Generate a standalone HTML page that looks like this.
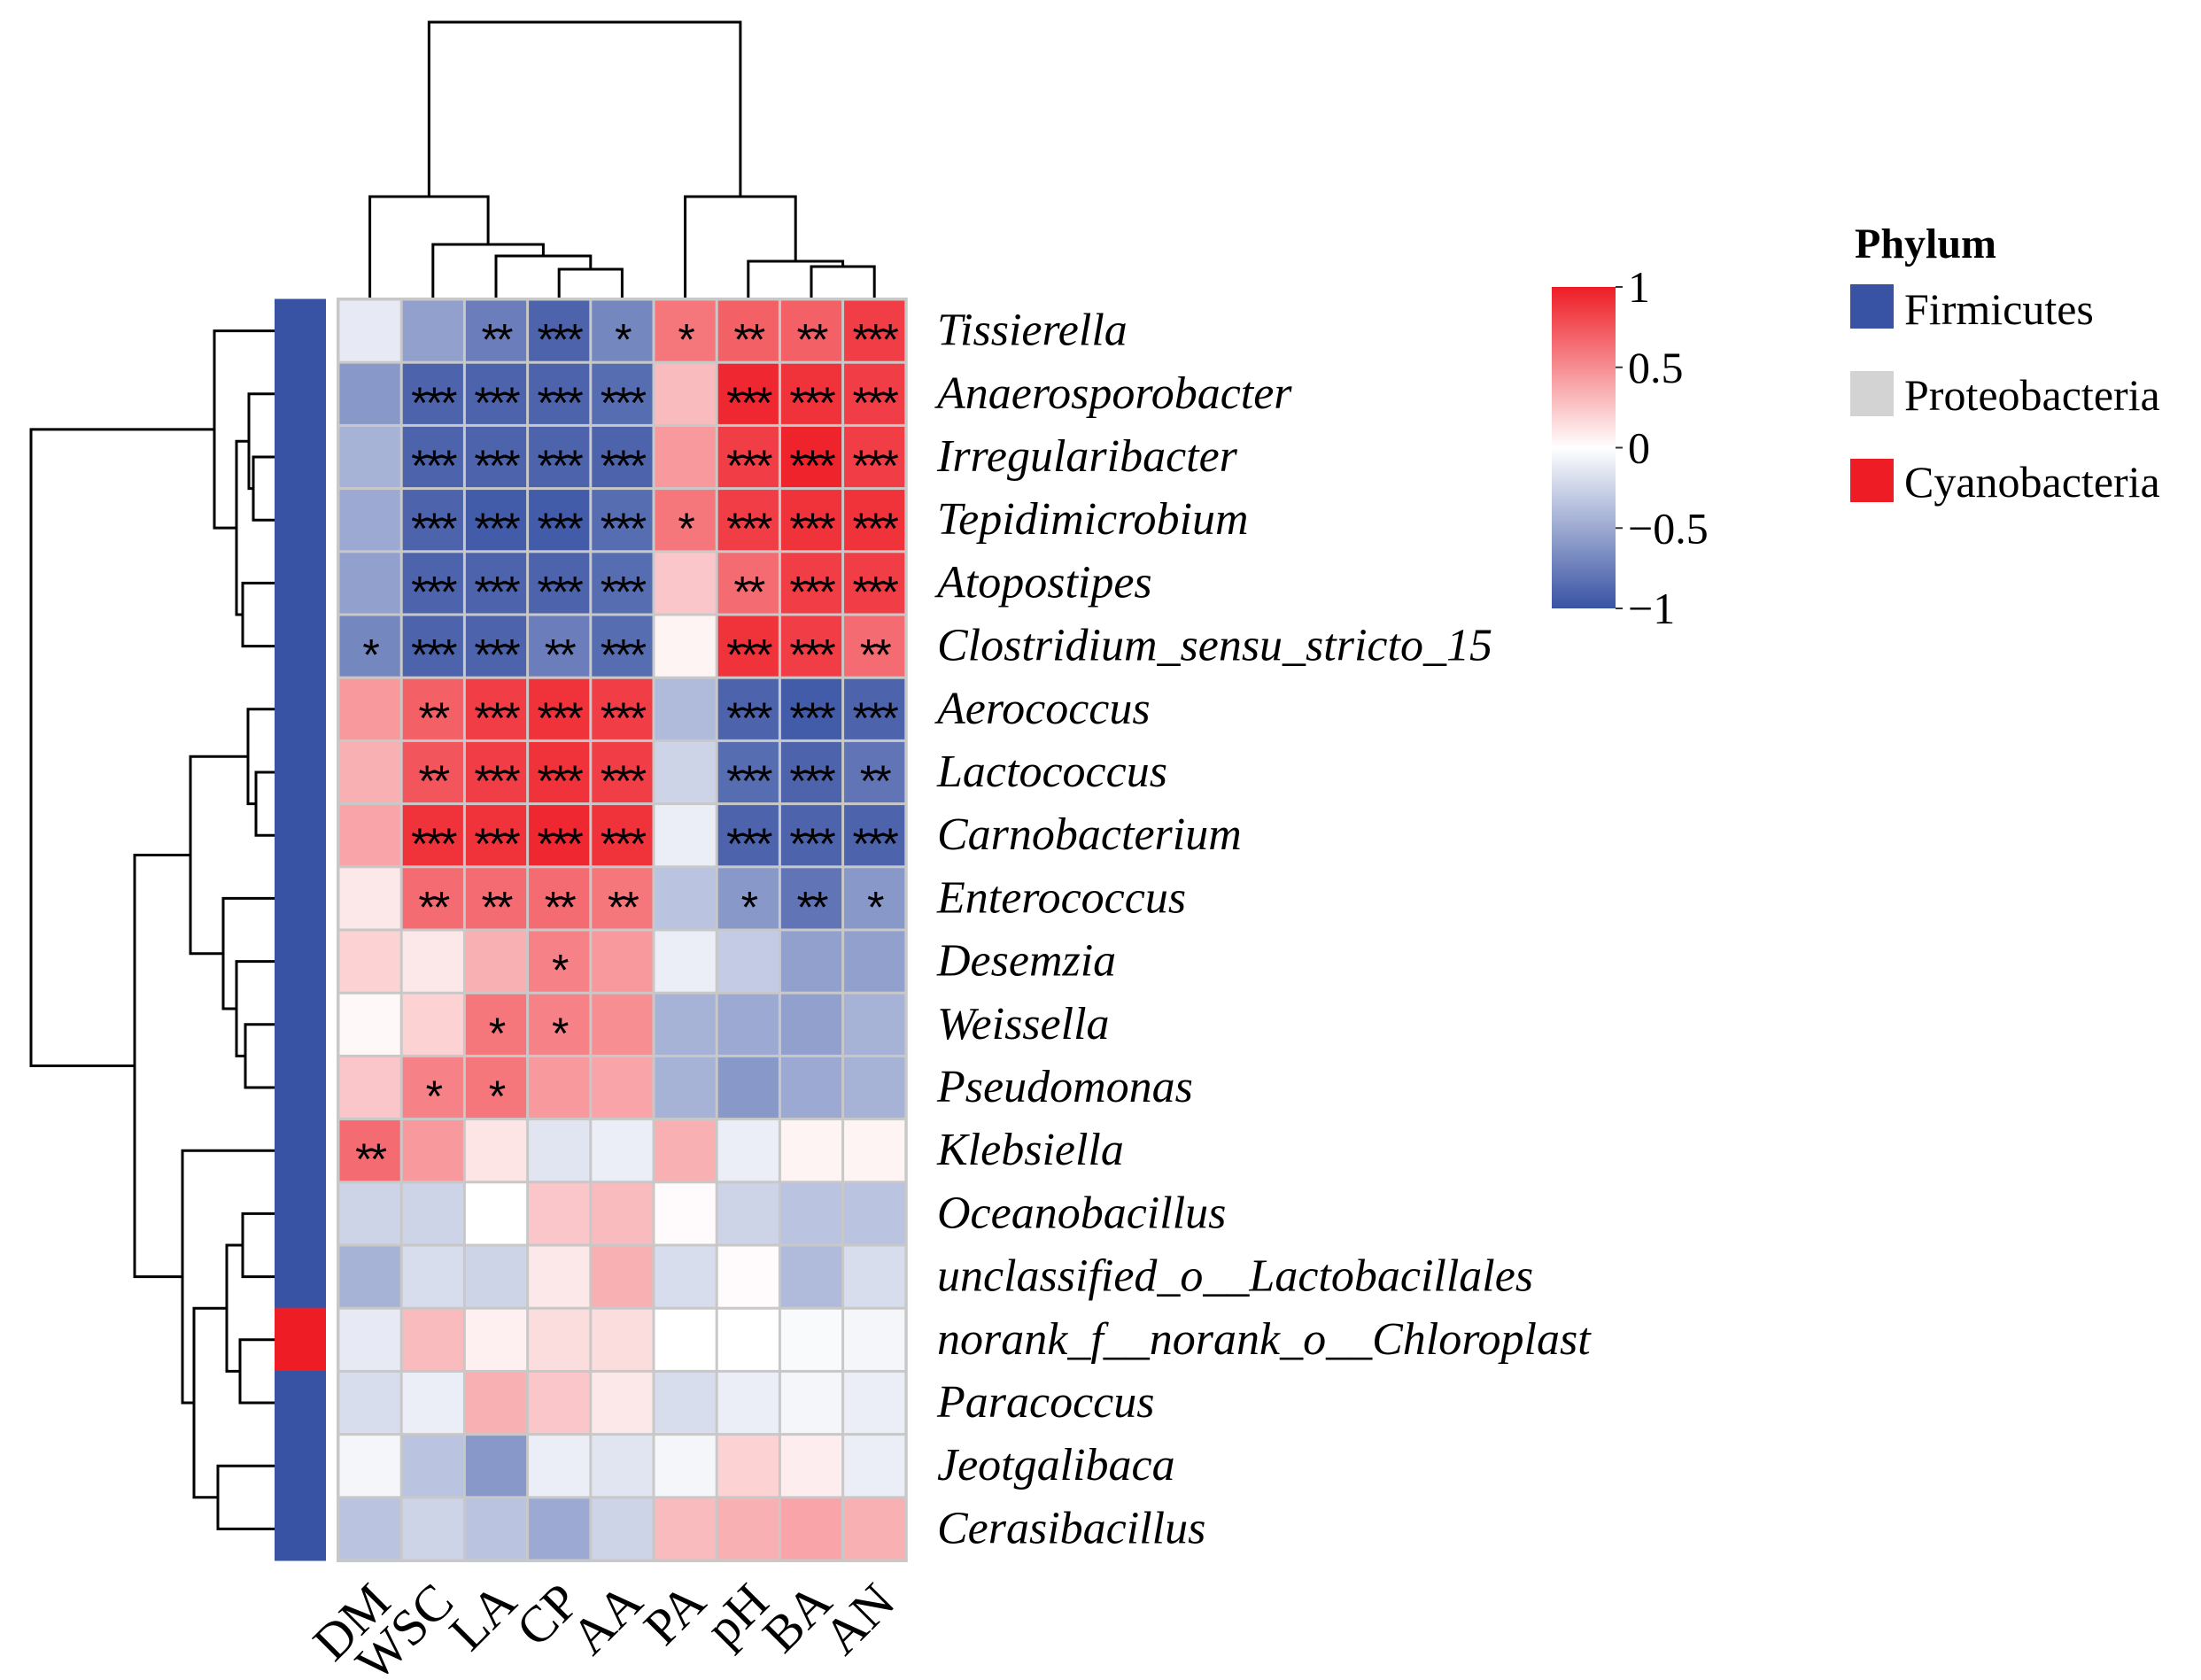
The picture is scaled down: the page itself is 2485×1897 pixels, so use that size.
<!DOCTYPE html>
<html><head><meta charset="utf-8"><style>
html,body{margin:0;padding:0;background:#fff;}
svg{display:block;}
</style></head><body>
<svg id="chart" width="2485" height="1897" viewBox="0 0 2485 1897" xmlns="http://www.w3.org/2000/svg" font-family="'Liberation Serif', serif">
<defs>
<linearGradient id="cbar" x1="0" y1="1" x2="0" y2="0">
<stop offset="0" stop-color="rgb(57,83,164)"/><stop offset="0.5" stop-color="#ffffff"/><stop offset="1" stop-color="rgb(238,28,37)"/>
</linearGradient>
</defs>
<g id="rowdend"></g>
<g id="coldend"></g>
<g id="phybar"></g>
<g id="cells"></g>
<g id="rowlabels"></g>
<g id="collabels"></g>
<g>
<rect x="1752" y="324" width="72" height="363" fill="url(#cbar)"/>
<g id="cbticks"></g>
</g>
<g font-size="50">
<text x="2094" y="291" font-weight="bold" font-size="48">Phylum</text>
<rect x="2089" y="321" width="49" height="50" fill="rgb(57,83,164)"/>
<text x="2150" y="366">Firmicutes</text>
<rect x="2089" y="419" width="49" height="51" fill="#d3d3d3"/>
<text x="2150" y="463">Proteobacteria</text>
<rect x="2089" y="518" width="49" height="49" fill="#ee1c25"/>
<text x="2150" y="561">Cyanobacteria</text>
</g>
</svg>
<script>
const columns = ["DM","WSC","LA","CP","AA","PA","pH","BA","AN"];
const rows = ["Tissierella","Anaerosporobacter","Irregularibacter","Tepidimicrobium","Atopostipes","Clostridium_sensu_stricto_15","Aerococcus","Lactococcus","Carnobacterium","Enterococcus","Desemzia","Weissella","Pseudomonas","Klebsiella","Oceanobacillus","unclassified_o__Lactobacillales","norank_f__norank_o__Chloroplast","Paracoccus","Jeotgalibaca","Cerasibacillus"];
const phylum = ["F","F","F","F","F","F","F","F","F","F","F","F","F","F","F","F","C","F","F","F"];
const values = [
[-0.12,-0.55,-0.75,-0.9,-0.7,0.6,0.7,0.7,0.85],
[-0.6,-0.9,-0.9,-0.9,-0.85,0.3,0.95,0.9,0.85],
[-0.45,-0.9,-0.9,-0.9,-0.9,0.45,0.85,0.97,0.85],
[-0.5,-0.9,-0.95,-0.95,-0.85,0.6,0.85,0.9,0.9],
[-0.55,-0.9,-0.9,-0.9,-0.85,0.25,0.65,0.85,0.85],
[-0.7,-0.9,-0.9,-0.75,-0.85,0.05,0.9,0.85,0.65],
[0.45,0.7,0.85,0.9,0.85,-0.4,-0.9,-0.95,-0.9],
[0.35,0.75,0.85,0.9,0.85,-0.25,-0.85,-0.9,-0.8],
[0.4,0.9,0.9,0.95,0.9,-0.1,-0.9,-0.9,-0.9],
[0.1,0.65,0.65,0.65,0.6,-0.35,-0.6,-0.8,-0.6],
[0.2,0.1,0.35,0.55,0.45,-0.1,-0.3,-0.55,-0.55],
[0.03,0.2,0.6,0.55,0.5,-0.45,-0.5,-0.55,-0.45],
[0.25,0.55,0.6,0.45,0.4,-0.45,-0.6,-0.5,-0.45],
[0.65,0.45,0.12,-0.15,-0.1,0.35,-0.1,0.05,0.05],
[-0.25,-0.25,0.0,0.25,0.3,0.02,-0.25,-0.35,-0.35],
[-0.45,-0.2,-0.25,0.1,0.35,-0.2,0.02,-0.4,-0.2],
[-0.12,0.3,0.07,0.15,0.15,0.0,0.0,-0.03,-0.05],
[-0.2,-0.1,0.35,0.25,0.1,-0.2,-0.1,-0.05,-0.1],
[-0.05,-0.35,-0.6,-0.1,-0.15,-0.05,0.2,0.08,-0.1],
[-0.35,-0.25,-0.35,-0.5,-0.25,0.3,0.35,0.4,0.35]
];
const stars = [
["","","**","***","*","*","**","**","***"],
["","***","***","***","***","","***","***","***"],
["","***","***","***","***","","***","***","***"],
["","***","***","***","***","*","***","***","***"],
["","***","***","***","***","","**","***","***"],
["*","***","***","**","***","","***","***","**"],
["","**","***","***","***","","***","***","***"],
["","**","***","***","***","","***","***","**"],
["","***","***","***","***","","***","***","***"],
["","**","**","**","**","","*","**","*"],
["","","","*","","","","",""],
["","","*","*","","","","",""],
["","*","*","","","","","",""],
["**","","","","","","","",""],
["","","","","","","","",""],
["","","","","","","","",""],
["","","","","","","","",""],
["","","","","","","","",""],
["","","","","","","","",""],
["","","","","","","","",""]
];
const colorTicks = [1,0.5,0,-0.5,-1];
const colorTickLabels = ["1","0.5","0","\u22120.5","\u22121"];
const colMerges = [[3,4,304],[7,8,301],[2,"c0",289],[6,"c1",295],[1,"c2",276],[0,"c4",222],[5,"c3",222],["c5","c6",25]];
const rowMerges = [[2,3,286],[1,"r0",281],[4,5,274],["r1","r2",267],[0,"r3",242],
 [7,8,289],[6,"r5",280],[11,12,277],[10,"r7",267],[9,"r8",252],["r6","r9",215],
 [14,15,274],[16,17,271],["r11","r12",256],[18,19,246],["r13","r14",219],[13,"r15",206],
 ["r10","r16",152],["r4","r17",35]];

const NS="http://www.w3.org/2000/svg";
const X0=382, Y0=338, CW=71.2, CH=71.2;
const xCol=i=>X0+CW*i, yRow=i=>Y0+CH*i;
const cxCol=i=>xCol(i)+CW/2, cyRow=i=>yRow(i)+CH/2;
function color(v){
  const lo=[57,83,164], hi=[238,28,37];
  const t=Math.min(1,Math.abs(v)), c=v<0?lo:hi;
  return `rgb(${Math.round(255+(c[0]-255)*t)},${Math.round(255+(c[1]-255)*t)},${Math.round(255+(c[2]-255)*t)})`;
}
function mk(tag,attrs,parent){const e=document.createElementNS(NS,tag);for(const k in attrs)e.setAttribute(k,attrs[k]);parent.appendChild(e);return e;}

const cells=document.getElementById('cells');
mk('rect',{x:X0-2,y:Y0-2,width:CW*9+4,height:CH*20+4,fill:'#c8c8c8'},cells);
rows.forEach((r,i)=>{columns.forEach((c,j)=>{
  const rc=mk('rect',{x:xCol(j)+1.5,y:yRow(i)+1.5,width:CW-3,height:CH-3,fill:color(values[i][j])},cells);
  
  
  if(stars[i][j]){
    const t=mk('text',{x:cxCol(j),y:cyRow(i)+27,'text-anchor':'middle','font-size':50,'font-family':"'Liberation Sans', sans-serif",fill:'#000','letter-spacing':-3},cells);
    t.textContent=stars[i][j];
    
    
  }
});});

const pb=document.getElementById('phybar');
phylum.forEach((p,i)=>{
  const r=mk('rect',{x:310,y:yRow(i)-0.5,width:58,height:CH+1,fill:p==="C"?'#ee1c25':(p==="P"?'#d3d3d3':'rgb(57,83,164)')},pb);
  
  
});

const rl=document.getElementById('rowlabels');
rows.forEach((r,i)=>{
  const t=mk('text',{x:1058,y:cyRow(i)+16,'font-size':52,'font-style':'italic'},rl);
  t.textContent=r;
  
  
});
const cl=document.getElementById('collabels');
columns.forEach((c,j)=>{
  const ax=cxCol(j)+26, ay=1812;
  const t=mk('text',{x:ax,y:ay,'font-size':58,'text-anchor':'end',transform:`rotate(-45 ${ax} ${ay})`},cl);
  t.textContent=c;
  
  
});

const cb=document.getElementById('cbticks');
colorTicks.forEach((v,k)=>{
  const y=687-(v+1)/2*363;
  mk('line',{x1:1824,x2:1832,y1:y,y2:y,stroke:'#333','stroke-width':2},cb);
  const t=mk('text',{x:1838,y:y+17,'font-size':50},cb);
  t.textContent=colorTickLabels[k];
  
  
});

const cd=document.getElementById('coldend');
const cpos={}, cht={};
function cget(k){return typeof k==='number'?[cxCol(k),Y0]:[cpos[k],cht[k]];}
colMerges.forEach((m,i)=>{
  const [ax,ay]=cget(m[0]), [bx,by]=cget(m[1]), h=m[2];
  mk('path',{d:`M${ax},${ay}V${h}H${bx}V${by}`,fill:'none',stroke:'#000','stroke-width':3},cd);
  cpos['c'+i]=(ax+bx)/2; cht['c'+i]=h;
});
const rd=document.getElementById('rowdend');
const rpos={}, rx={};
function rget(k){return typeof k==='number'?[310,cyRow(k)]:[rx[k],rpos[k]];}
rowMerges.forEach((m,i)=>{
  const [ax,ay]=rget(m[0]), [bx,by]=rget(m[1]), x=m[2];
  mk('path',{d:`M${ax},${ay}H${x}V${by}H${bx}`,fill:'none',stroke:'#000','stroke-width':3},rd);
  rpos['r'+i]=(ay+by)/2; rx['r'+i]=x;
});
</script>
</body></html>
